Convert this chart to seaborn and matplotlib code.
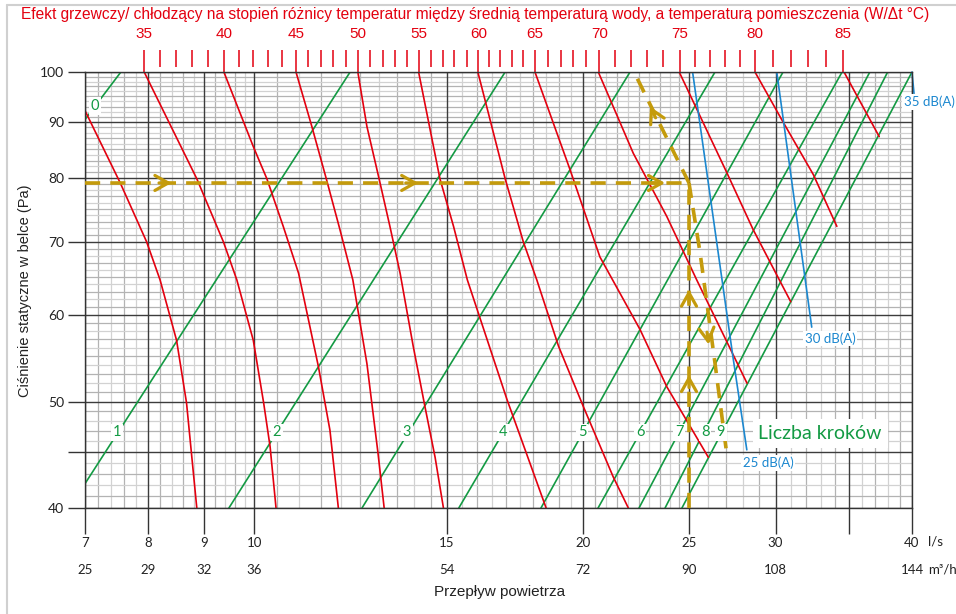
import numpy as np
import pandas as pd
import seaborn as sns
import matplotlib.pyplot as plt
from matplotlib.lines import Line2D
from matplotlib.ticker import NullLocator

sns.set_theme(style="white")
plt.rcParams["font.family"] = ["Liberation Sans", "DejaVu Sans"]

RED = "#e3000f"
GREEN = "#139a43"
BLUE = "#1b87cf"
GOLD = "#c49b0c"
NUM_FONT = ["Lato", "DejaVu Sans"]

# bottom scale (l/s) and the m3/h row under it
flow_ticks = [7, 8, 9, 10, 15, 20, 25, 30, 35, 40]
flow_labels = ["7", "8", "9", "10", "15", "20", "25", "30", "", "40"]
m3h_flows = [7, 8, 9, 10, 15, 20, 25, 30, 40]
m3h_labels = ["25", "29", "32", "36", "54", "72", "90", "108", "144"]
pressure_ticks = [40, 45, 50, 60, 70, 80, 90, 100]
pressure_labels = ["40", "", "50", "60", "70", "80", "90", "100"]

# top scale: W/dt value -> airflow where it sits on the 100 Pa line
heat_values = list(range(35, 86))
heat_flow_100pa = [7.93, 8.20, 8.48, 8.77, 9.08, 9.38, 9.68, 9.98, 10.29, 10.60,
                   10.92, 11.21, 11.50, 11.81, 12.13, 12.44, 12.76, 13.11, 13.45, 13.79,
                   14.14, 14.51, 14.88, 15.24, 15.65, 16.04, 16.41, 16.80, 17.22, 17.63,
                   18.07, 18.58, 19.09, 19.57, 20.12, 20.69, 21.39, 22.12, 22.87, 23.68,
                   24.53, 25.32, 26.13, 26.97, 27.84, 28.74, 29.87, 30.98, 32.15, 33.37,
                   34.61]

# red heat output curves (flow l/s, pressure Pa)
heat30_flow = [7.0, 7.54, 7.97, 8.20, 8.49, 8.67, 8.86]
heat30_pa = [92.2, 79.2, 70.0, 64.6, 56.9, 49.9, 40]
heat35_flow = [7.93, 8.86, 9.37, 9.64, 9.98, 10.20, 10.34, 10.47]
heat35_pa = [100, 79.9, 70.0, 64.6, 56.9, 49.9, 45.5, 40]
heat40_flow = [9.38, 9.98, 10.27, 10.63, 10.98, 11.45, 11.73, 11.94]
heat40_pa = [100, 85.5, 79.9, 72.3, 65.5, 53.8, 47.1, 40]
heat45_flow = [10.92, 11.29, 11.64, 11.98, 12.31, 12.68, 12.98, 13.15]
heat45_pa = [100, 89.2, 79.9, 71.8, 64.6, 54.2, 44.9, 40]
heat50_flow = [12.44, 12.68, 13.01, 13.31, 13.60, 13.98, 14.33, 14.64, 14.90]
heat50_pa = [100, 89.2, 79.9, 72.3, 65.5, 56.2, 49.5, 44.5, 40]
heat55_flow = [14.14, 14.79, 15.22, 15.67, 17.04, 18.50]
heat55_pa = [100, 79.9, 72.3, 64.6, 50.2, 40]
heat60_flow = [16.02, 16.97, 17.63, 18.14, 18.99, 20.01, 21.31, 22.0]
heat60_pa = [100, 79.9, 70.0, 64.6, 56.2, 49.5, 42.7, 40]
heat65_flow = [18.07, 19.46, 20.72, 22.55, 23.86, 26.04]
heat65_pa = [100, 81.4, 67.8, 58.2, 51.6, 44.5]
heat70_flow = [20.65, 21.21, 22.23, 23.86, 25.41, 28.25]
heat70_pa = [100, 94.0, 84.3, 73.8, 64.6, 52.0]
heat75_flow = [24.49, 27.08, 28.62, 30.98]
heat75_pa = [100, 80.9, 71.8, 61.7]
heat80_flow = [28.73, 30.39, 32.49, 34.14]
heat80_pa = [100, 90.5, 80.6, 72.3]
heat85_flow = [34.66, 37.33]
heat85_pa = [100, 87.3]

# green nozzle step lines 0..9 (start and end point)
step_names = ["0", "1", "2", "3", "4", "5", "6", "7", "8", "9"]
step_lo_flow = [7.0, 7.0, 9.48, 12.55, 15.39, 18.30, 20.64, 22.50, 23.77, 24.63]
step_lo_pa = [90.5, 42.1, 40, 40, 40, 40, 40, 40, 40, 40]
step_hi_flow = [7.55, 12.24, 16.97, 22.08, 26.41, 30.48, 34.52, 36.6, 38.0, 40.0]
step_hi_pa = [100, 100, 100, 100, 100, 100, 100, 100, 100, 100]
step_label_flow = [7.15, 7.49, 10.49, 13.80, 16.89, 19.96, 22.55, 24.48, 25.86, 26.74]
step_label_pa = [93.1, 46.9, 46.9, 46.9, 46.9, 46.9, 46.9, 46.9, 46.9, 46.9]

# blue sound level lines
db25_flow = [25.19, 27.43, 28.24]
db25_pa = [100, 54.9, 45.2]
db30_flow = [30.08, 32.38]
db30_pa = [100, 58.5]
db35_flow = [40.0, 40.17]
db35_pa = [100, 95.6]

# reading example (dashed)
guide_h_flow, guide_h_pa = [7.0, 25.0], [79.2, 79.2]
guide_v_flow, guide_v_pa = [25.0, 25.0], [40, 79.2]
guide_up_flow, guide_up_pa = [25.0, 22.40], [79.2, 98.8]
guide_dn_flow, guide_dn_pa = [25.0, 25.59, 26.41, 27.08], [79.2, 68.4, 54.2, 44.7]

rows = []
reds = [(heat30_flow, heat30_pa), (heat35_flow, heat35_pa), (heat40_flow, heat40_pa),
        (heat45_flow, heat45_pa), (heat50_flow, heat50_pa), (heat55_flow, heat55_pa),
        (heat60_flow, heat60_pa), (heat65_flow, heat65_pa), (heat70_flow, heat70_pa),
        (heat75_flow, heat75_pa), (heat80_flow, heat80_pa), (heat85_flow, heat85_pa)]
for i, (f, p) in enumerate(reds):
    rows += [("red", f"r{i}", a, b) for a, b in zip(f, p)]
for i in range(len(step_names)):
    rows.append(("green", f"g{i}", step_lo_flow[i], step_lo_pa[i]))
    rows.append(("green", f"g{i}", step_hi_flow[i], step_hi_pa[i]))
for name, f, p in [("b25", db25_flow, db25_pa), ("b30", db30_flow, db30_pa)]:
    rows += [("blue", name, a, b) for a, b in zip(f, p)]
df = pd.DataFrame(rows, columns=["kind", "curve", "flow", "pa"])

fig = plt.figure(figsize=(9.56, 6.14), dpi=100)
ax = fig.add_axes([85 / 956, 1 - 508 / 614, 827 / 956, 436 / 614])
ax.set_xscale("log")
ax.set_yscale("log")
ax.set_xlim(7, 40)
ax.set_ylim(40, 100)

# grid
xminor = [x for x in np.round(np.concatenate([np.arange(7, 10, 0.2), np.arange(10, 25, 0.5),
                                               np.arange(25, 40, 1)]), 2) if x not in flow_ticks]
for i, x in enumerate(xminor):
    ax.axvline(x, color="#b3b3b3" if i % 2 == 0 else "#d2d2d2", lw=0.9, zorder=0.5)
for y in range(41, 100):
    if y not in pressure_ticks:
        ax.axhline(y, color="#b3b3b3" if y % 2 else "#d2d2d2", lw=0.9, zorder=0.5)
for x in flow_ticks:
    ax.axvline(x, color="#3c3c3c", lw=1.0, zorder=0.6)
for y in pressure_ticks:
    ax.axhline(y, color="#3c3c3c", lw=1.0, zorder=0.6)

colors = {"red": RED, "green": GREEN, "blue": BLUE}
for kind in ["green", "red", "blue"]:
    sns.lineplot(data=df[df.kind == kind], x="flow", y="pa", units="curve", estimator=None,
                 sort=False, color=colors[kind], lw=1.2, ax=ax, legend=False, zorder=2)
ax.plot(db35_flow, db35_pa, color=BLUE, lw=1.2, clip_on=False, zorder=2)

# dashed reading example
dash = dict(color=GOLD, lw=2.6, ls=(0, (4.2, 2.8)), zorder=3, solid_capstyle="butt")
for f, p in [(guide_h_flow, guide_h_pa), (guide_v_flow, guide_v_pa),
             (guide_up_flow, guide_up_pa), (guide_dn_flow, guide_dn_pa)]:
    ax.plot(f, p, clip_on=False, **dash)

chevrons = [((8.40, 79.2), (-9, 0)), ((14.13, 79.2), (-9, 0)), ((23.77, 79.2), (-9, 0)),
            ((25.0, 63.3), (0, -9)), ((25.0, 52.9), (0, -9)),
            ((23.03, 93.0), (4.0, -8.1)), ((26.06, 56.4), (-1.2, 8.9))]
for tip, off in chevrons:
    ax.annotate("", xy=tip, xytext=off, textcoords="offset points",
                arrowprops=dict(arrowstyle="->,head_length=0.8,head_width=0.45", color=GOLD,
                                lw=2.3, shrinkA=0, shrinkB=0), zorder=4)

box = dict(boxstyle="square,pad=0.12", fc="white", ec="none")
for name, f, p in zip(step_names, step_label_flow, step_label_pa):
    ax.text(f, p, name, color=GREEN, fontsize=10.5, ha="center", va="center",
            family=NUM_FONT, bbox=box, zorder=5)
ax.text(32.96, 46.8, "Liczba kroków", color=GREEN, fontsize=14, ha="center", va="center",
        family=NUM_FONT, bbox=dict(boxstyle="square,pad=0.3", fc="white", ec="none"), zorder=5)
for txt, f, p in [("25 dB(A)", 29.53, 44.0), ("30 dB(A)", 33.66, 57.1), ("35 dB(A)", 41.5, 93.9)]:
    ax.text(f, p, txt, color=BLUE, fontsize=9.5, ha="center", va="center",
            family=NUM_FONT, bbox=box, zorder=5)

# axes ticks
ax.set_xticks(flow_ticks, flow_labels, family=NUM_FONT)
ax.set_yticks(pressure_ticks, pressure_labels, family=NUM_FONT)
ax.xaxis.set_minor_locator(NullLocator())
ax.yaxis.set_minor_locator(NullLocator())
ax.tick_params(axis="x", bottom=True, length=19, width=1, color="#333333", pad=2,
               labelsize=9.5, labelcolor="#222222")
ax.tick_params(axis="y", left=True, length=12, width=1, color="#333333", pad=3,
               labelsize=10, labelcolor="#222222")
ax.set_xlabel("")
ax.set_ylabel("")
for s in ax.spines.values():
    s.set_color("#333333")
    s.set_linewidth(1.0)

xt = ax.get_xaxis_transform()
for f, lab in zip(m3h_flows, m3h_labels):
    ax.text(f, -0.142, lab, transform=xt, ha="center", va="center", fontsize=9.5,
            family=NUM_FONT, color="#222222")
ax.text(1.019, -0.0757, "l/s", transform=ax.transAxes, ha="left", va="center", fontsize=9.5,
        family=NUM_FONT, color="#222222")
ax.text(1.019, -0.142, "m³/h", transform=ax.transAxes, ha="left", va="center", fontsize=9.5,
        family=NUM_FONT, color="#222222")

# top heat scale
major_f = [f for v, f in zip(heat_values, heat_flow_100pa) if v % 5 == 0]
major_l = [str(v) for v in heat_values if v % 5 == 0]
minor_f = [f for v, f in zip(heat_values, heat_flow_100pa) if v % 5 != 0]
top = ax.secondary_xaxis("top")
top.set_ticks(major_f, major_l)
top.xaxis.set_minor_locator(NullLocator())
top.tick_params(axis="x", direction="out", length=16, width=1.1, color=RED,
                labelcolor=RED, labelsize=11, pad=6)
top2 = ax.secondary_xaxis(1 + 5 / 436)
top2.set_ticks(minor_f, [""] * len(minor_f))
top2.xaxis.set_minor_locator(NullLocator())
top2.tick_params(axis="x", direction="out", length=12.2, width=1.1, color=RED)
for sec in (top, top2):
    for s in sec.spines.values():
        s.set_visible(False)

fig.text(475 / 956, 1 - 14 / 614,
         "Efekt grzewczy/ chłodzący na stopień różnicy temperatur między średnią temperaturą wody, "
         "a temperaturą pomieszczenia (W/Δt °C)", color=RED, fontsize=11.2, ha="center", va="center")
fig.text(500 / 956, 1 - 592 / 614, "Przepływ powietrza", fontsize=11, ha="center", va="center",
         color="#222222")
fig.text(25 / 956, 1 - 291 / 614, "Ciśnienie statyczne w belce (Pa)", fontsize=10.5, rotation=90,
         ha="center", va="center", color="#222222")

fig.add_artist(Line2D([7 / 956, 7 / 956], [0, 1 - 5 / 614], color="#d0d0d0", lw=1.5))
fig.add_artist(Line2D([7 / 956, 1], [1 - 5 / 614, 1 - 5 / 614], color="#d0d0d0", lw=1.5))

fig.savefig("out.png", dpi=100, facecolor="white")
